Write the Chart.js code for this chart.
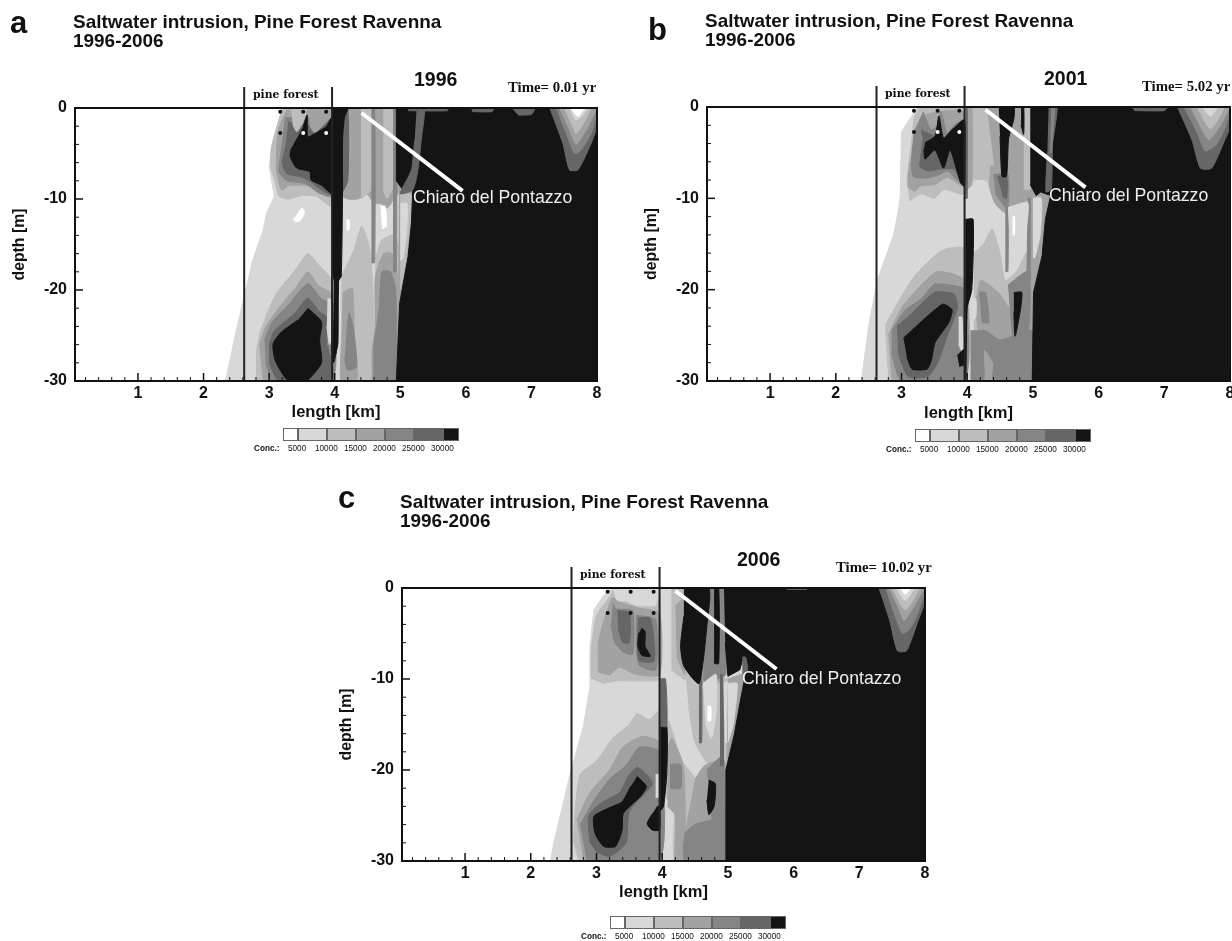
<!DOCTYPE html>
<html lang="en">
<head>
<meta charset="UTF-8">
<title>Saltwater intrusion, Pine Forest Ravenna</title>
<script src="https://cdn.jsdelivr.net/npm/chart.js@4"></script>
<style>
  html, body { margin: 0; padding: 0; background: #fff; overflow: hidden; }
  #page { position: relative; width: 1232px; height: 941px; filter: blur(0.45px); color: #111; font-family: "Liberation Sans", Arial, sans-serif; overflow: hidden; }
  canvas { position: absolute; }
  .txt { position: absolute; white-space: nowrap; line-height: 1; }
  .letter { font-size: 31px; font-weight: bold; }
  .title { font-size: 18.95px; font-weight: bold; line-height: 19px; }
  .year { font-size: 19.5px; font-weight: bold; }
  .time { font: bold 14.8px "Liberation Serif", serif; }
  .forest { font: bold 10.8px "DejaVu Serif", serif; }
  .lake { font-size: 17.7px; color: #eee; }
  .swatch { position: absolute; height: 13px; border: 1px solid #666; box-sizing: border-box; }
  .conc { position: absolute; font-size: 8.2px; white-space: nowrap; }
</style>
</head>
<body>
<div id="page"></div>
<script>
// axes
const xTicks = [1, 2, 3, 4, 5, 6, 7, 8];
const xMinor = [0.2,0.4,0.6,0.8,1.2,1.4,1.6,1.8,2.2,2.4,2.6,2.8,3.2,3.4,3.6,3.8,4.2,4.4,4.6,4.8,5.2,5.4,5.6,5.8,6.2,6.4,6.6,6.8,7.2,7.4,7.6,7.8];
const yTicks = [0, -10, -20, -30];
const yMinor = [-2,-4,-6,-8,-12,-14,-16,-18,-22,-24,-26,-28];
const forestEdges = [2.62, 3.96];
const forestTop = 2.3;

// observation wells [km, depth]
const aWellsBlack = [[3.17,-0.4],[3.52,-0.4],[3.87,-0.4],[3.17,-2.75]];
const aWellsWhite = [[3.52,-2.75],[3.87,-2.75]];
const bWellsBlack = [[3.19,-0.4],[3.55,-0.4],[3.88,-0.4],[3.19,-2.75]];
const bWellsWhite = [[3.55,-2.75],[3.88,-2.75]];
const cWellsBlack = [[3.17,-0.4],[3.52,-0.4],[3.87,-0.4],[3.17,-2.75],[3.52,-2.75],[3.87,-2.75]];
const cWellsWhite = [];

// Chiaro del Pontazzo pointer
const aPointer = [[4.41,-0.55],[5.95,-9.1]];
const bPointer = [[4.28,-0.3],[5.80,-8.8]];
const cPointer = [[4.20,-0.3],[5.74,-8.9]];

// colour bar
const concLevels = [0, 5000, 10000, 15000, 20000, 25000, 30000];
const concLabels = ['5000', '10000', '15000', '20000', '25000', '30000'];

// contour regions, [lower concentration of the band, outline in km/depth], painted in this order
const aRegions = [
  [5000, [[2.33,-30],[2.35,-29.5],[2.5,-24.4],[2.63,-20.4],[2.75,-16.7],[2.91,-13.4],[2.96,-11.6],[3.08,-9.7],[3.0,-6.4],[3.09,-2.8],[3.21,-0.6],[3.26,0],[8,0],[8,-30]]],
  // forest, shallow
  [10000, [[3.2,0],[3.12,-2],[3.03,-4.5],[3.03,-6.5],[3.1,-8.3],[3.15,-9.7],[3.3,-10],[3.5,-9.6],[3.72,-9.7],[3.96,-10.8],[3.96,0]]],
  [15000, [[3.27,-0.2],[3.14,-2.4],[3.11,-6.8],[3.19,-9],[3.31,-8.5],[3.67,-8.6],[3.96,-9.7],[3.96,-0.2]]],
  [20000, [[3.25,-1],[3.2,-4],[3.15,-7],[3.27,-8],[3.55,-8.3],[3.75,-9.3],[3.96,-9.7],[3.96,-1]]],
  [25000, [[3.3,-1.5],[3.26,-4],[3.2,-6],[3.27,-7.2],[3.5,-7.6],[3.65,-8.2],[3.8,-9],[3.96,-9.5],[3.96,-0.8],[3.7,-2]]],
  [10000, [[3.33,-0.1],[3.56,-0.1],[3.55,-0.9],[3.5,-1.8],[3.42,-2.6],[3.36,-1.8]]],
  [15000, [[3.6,-0.1],[3.95,-0.1],[3.95,-0.9],[3.85,-1.7],[3.7,-2.7],[3.62,-2]]],
  [30000, [[3.52,-2.05],[3.58,-0.77],[3.59,-3.15],[3.7,-2.8],[3.87,-2.05],[3.96,-1],[3.96,-9.4],[3.8,-8.5],[3.64,-7.9],[3.62,-7],[3.42,-6.6],[3.32,-5.3],[3.34,-4.4]]],
  [0, [[3.37,-12.3],[3.42,-11.8],[3.5,-11],[3.54,-11.5],[3.47,-12.4],[3.4,-12.5]]],
  // forest, deep
  [10000, [[2.8,-27],[2.87,-24.5],[3.1,-20.5],[3.4,-17.8],[3.59,-16],[3.75,-17.2],[3.96,-19],[3.96,-30],[2.8,-30]]],
  [15000, [[2.85,-26],[2.95,-24],[3.2,-21.5],[3.4,-19.8],[3.59,-18],[3.75,-19.5],[3.96,-20.5],[3.96,-30],[2.9,-30]]],
  [20000, [[2.93,-25.5],[3.05,-23.5],[3.3,-21.6],[3.59,-19.3],[3.8,-21],[3.96,-21.5],[3.96,-30],[3.05,-30],[2.95,-28]]],
  [25000, [[3.0,-26],[3.07,-24.6],[3.2,-23.7],[3.4,-22.5],[3.59,-20.9],[3.77,-22.4],[3.88,-23],[3.88,-26],[3.96,-28],[3.96,-30],[3.15,-30],[3.0,-28]]],
  [30000, [[3.59,-22],[3.8,-23.5],[3.77,-25.5],[3.8,-28],[3.62,-29.7],[3.55,-30],[3.3,-30],[3.21,-29.3],[3.09,-27.7],[3.06,-25.9],[3.19,-24.6],[3.44,-23.3]]],
  [5000, [[3.89,-21],[3.94,-21],[3.96,-25],[3.92,-26],[3.88,-24]]],
  // east of the forest, shallow stripes
  [15000, [[4.0,0],[5.0,0],[5.0,-9],[4.9,-10],[4.8,-11],[4.7,-10.5],[4.6,-10.5],[4.5,-9.5],[4.35,-10],[4.2,-10],[4.05,-9.5]]],
  [10000, [[4.4,0],[4.55,0],[4.55,-9],[4.4,-10]]],
  [10000, [[4.74,0],[4.89,0],[4.89,-8.5],[4.8,-10],[4.74,-9]]],
  [25000, [[4.1,0],[4.2,0],[4.2,-8],[4.1,-9.5]]],
  // east of the forest, towers
  [10000, [[4.1,-18.5],[4.3,-15.5],[4.41,-13],[4.52,-15],[4.56,-17],[4.6,-23],[4.6,-30],[4.1,-30]]],
  [15000, [[4.12,-20.3],[4.27,-19.8],[4.3,-25],[4.34,-28],[4.33,-30],[4.1,-30],[4.1,-26]]],
  [20000, [[4.18,-25],[4.22,-22.5],[4.28,-24],[4.33,-27],[4.33,-28.5],[4.2,-28.8],[4.15,-27.5]]],
  [10000, [[4.62,-16.5],[4.72,-14.5],[4.9,-14],[5.0,-16],[5.0,-22],[4.96,-30],[4.6,-30]]],
  [15000, [[4.56,-27],[4.62,-24],[4.62,-18.5],[4.75,-16],[4.87,-16],[4.95,-18],[4.96,-30],[4.56,-30]]],
  [20000, [[4.6,-30],[4.6,-26],[4.68,-22],[4.72,-18],[4.85,-18],[4.93,-20],[4.94,-30]]],
  [20000, [[4.56,0],[4.61,0],[4.61,-17],[4.56,-17]]],
  [20000, [[4.89,0],[4.94,0],[4.94,-18],[4.89,-18]]],
  [0, [[4.18,-12.3],[4.22,-12.3],[4.22,-13.4],[4.18,-13.4]]],
  [0, [[4.7,-10.8],[4.77,-10.8],[4.79,-13],[4.72,-13.3]]],
  // seaward dark body and what cuts through it
  [15000, [[4.98,-8.5],[5.27,-8.5],[5.24,-11],[5.2,-15],[5.1,-19],[4.96,-23]]],
  [10000, [[5.0,-9.5],[5.17,-9.5],[5.14,-13],[5.08,-17],[5.0,-20]]],
  [5000, [[5.0,-10.5],[5.11,-10.5],[5.09,-14],[5.04,-16.5],[5.0,-16.8]]],
  [30000, [[5.25,0],[8,0],[8,-30],[4.94,-30],[4.99,-21.5],[5.12,-16.3],[5.17,-12.7],[5.19,-9],[5.04,-9],[4.94,-8],[4.94,0]]],
  [25000, [[5.25,0],[5.37,0],[5.32,-3.5],[5.27,-6.8],[5.19,-9],[5.0,-9.4],[5.17,-6.8],[5.22,-3.5]]],
  [25000, [[5.12,0],[5.72,0],[5.72,-0.3],[5.12,-0.3]]],
  [25000, [[6.08,0],[6.42,0],[6.4,-0.4],[6.1,-0.4]]],
  [25000, [[6.7,0],[7.05,0],[7.0,-0.7],[6.8,-0.8]]],
  [30000, [[3.96,0],[4.2,0],[4.15,-1],[4.12,-3.5],[4.12,-9],[4.1,-18.5],[4.06,-19],[4.05,-25.8],[4.02,-27],[3.98,-28],[3.95,-26.5],[3.98,-25.5],[3.99,-19],[3.96,-18]]],
  // coastal blob
  [25000, [[7.28,0],[7.48,-3.9],[7.58,-6.8],[7.71,-6.8],[7.91,-3.9],[8,-2],[8,0]]],
  [20000, [[7.38,0],[7.53,-2.8],[7.66,-5],[7.76,-4.6],[7.91,-2.8],[8,-0.6],[8,0]]],
  [15000, [[7.43,0],[7.58,-2.4],[7.68,-4],[7.84,-2.4],[7.96,-0.6],[8,0]]],
  [10000, [[7.5,0],[7.63,-2],[7.68,-2.8],[7.78,-1.9],[7.91,0]]],
  [5000, [[7.58,0],[7.68,-1.3],[7.78,-0.8],[7.86,0]]],
  [0, [[7.6,0],[7.71,-0.95],[7.81,0]]]
];

const bRegions = [
  [5000, [[2.39,-30],[2.5,-24],[2.63,-19],[2.88,-14],[2.96,-11],[2.98,-9.8],[3.0,-2.7],[3.2,-0.5],[3.25,0],[8,0],[8,-30]]],
  // forest, shallow
  [10000, [[3.12,-10.3],[3.3,-9.5],[3.5,-10],[3.65,-9],[3.96,-9.5],[3.96,0],[3.3,0],[3.2,-1],[3.15,-4],[3.08,-8]]],
  [15000, [[3.13,-6],[3.1,-8.7],[3.2,-9.2],[3.3,-8.6],[3.5,-8.5],[3.7,-7.7],[3.96,-8.7],[3.96,-0.6],[3.32,-1],[3.25,-4]]],
  [20000, [[3.2,-2.5],[3.15,-6],[3.18,-7.6],[3.35,-7.8],[3.55,-7.5],[3.7,-7],[3.96,-8.6],[3.96,-1.5],[3.8,-2],[3.7,-3],[3.6,-0.5],[3.55,-2],[3.45,-2.5],[3.33,-0.5]]],
  [25000, [[3.3,-2.5],[3.33,-3.5],[3.28,-6.5],[3.4,-7],[3.6,-6.8],[3.8,-6.8],[3.96,-8.6],[3.96,-2],[3.75,-2.5],[3.64,-3.6],[3.52,-3.2]]],
  [30000, [[3.34,-4.7],[3.36,-5.7],[3.51,-4.7],[3.64,-6.7],[3.74,-4.7],[3.9,-8.3],[3.96,-8.7],[3.96,-1.4],[3.77,-2.5],[3.64,-3.4],[3.57,-1],[3.51,-3.2],[3.36,-3.9]]],
  // forest, deep
  [10000, [[2.75,-24],[2.9,-22],[3.2,-18.5],[3.55,-16],[3.7,-15.5],[3.96,-15.5],[3.96,-30],[2.8,-30]]],
  [15000, [[2.8,-25],[3.0,-22],[3.3,-19.5],[3.55,-18],[3.96,-19],[3.96,-30],[2.85,-30]]],
  [20000, [[2.85,-24.5],[3.05,-22.3],[3.3,-21],[3.5,-19.4],[3.75,-19.5],[3.96,-20],[3.96,-30],[3.0,-30],[2.85,-27]]],
  [25000, [[2.93,-24],[3.1,-23],[3.5,-20.3],[3.8,-20.5],[3.85,-22],[3.7,-25],[3.55,-28],[3.4,-29.5],[3.1,-29.5],[2.95,-27]]],
  [30000, [[3.03,-25.3],[3.62,-21.6],[3.77,-22.2],[3.72,-23.6],[3.51,-25.8],[3.46,-27.6],[3.39,-28.7],[3.16,-28.7],[3.08,-27.3]]],
  [5000, [[3.87,-23],[3.92,-23],[3.94,-27],[3.87,-26]]],
  [30000, [[3.85,-27.2],[3.96,-26.5],[3.96,-28.2],[3.88,-28.4]]],
  // east of the forest, shallow
  [10000, [[4.0,0],[4.5,0],[4.6,-8],[4.5,-10.5],[4.3,-9],[4.05,-8]]],
  [15000, [[4.0,0],[4.07,0],[4.07,-8.5],[4.0,-9]]],
  [15000, [[4.3,0],[4.48,0],[4.5,-7],[4.42,-7]]],
  [15000, [[4.6,0],[4.95,0],[5.0,-9.5],[4.75,-11],[4.6,-11]]],
  [15000, [[4.35,-6.5],[4.62,-6.5],[4.64,-11.5],[4.56,-11.5],[4.42,-10.5],[4.33,-8.5]]],
  [20000, [[4.4,-7.4],[4.62,-7.4],[4.62,-11],[4.56,-10.8],[4.43,-9.5]]],
  [25000, [[4.46,-7.6],[4.6,-7.6],[4.6,-10],[4.54,-9.8]]],
  [10000, [[4.86,0],[4.96,0],[4.96,-9],[4.86,-9]]],
  [30000, [[4.48,0],[4.71,0],[4.71,-1.3],[4.63,-3.5],[4.6,-7.6],[4.53,-7.6],[4.5,-3.2]]],
  [30000, [[4.82,0],[4.86,0],[4.86,-3],[4.82,-2]]],
  // east of the forest, towers
  [10000, [[4.1,-16],[4.25,-15],[4.38,-13.4],[4.5,-16],[4.58,-19],[4.75,-18],[4.9,-16],[5,-16],[5,-30],[4.1,-30]]],
  [15000, [[4.12,-22],[4.2,-19],[4.3,-19.3],[4.5,-20.5],[4.65,-22],[4.8,-19.5],[4.96,-18],[4.99,-30],[4.25,-30]]],
  [5000, [[4.05,-21],[4.13,-21],[4.13,-23],[4.05,-23.5]]],
  [20000, [[4.18,-20.3],[4.28,-20.3],[4.33,-23.6],[4.22,-23.6]]],
  [20000, [[4.05,-24.5],[4.28,-24.5],[4.5,-25.5],[4.9,-24.5],[4.99,-24.5],[4.99,-30],[4.4,-30],[4.4,-28],[4.25,-26.5],[4.25,-30],[4.05,-30]]],
  [20000, [[4.62,-19.5],[4.93,-18],[4.93,-24.5],[4.68,-25]]],
  [20000, [[4.58,-11],[4.62,-11],[4.62,-18],[4.58,-18]]],
  [20000, [[4.92,-10],[4.97,-10],[4.96,-19],[4.9,-19]]],
  [5000, [[4.62,-11],[4.92,-10.5],[4.88,-14],[4.75,-16],[4.66,-16.5]]],
  [5000, [[4.1,-8],[4.3,-8.2],[4.36,-11],[4.25,-12.5],[4.1,-11.5]]],
  [0, [[4.69,-12],[4.72,-12],[4.72,-14],[4.69,-14]]],
  [30000, [[4.71,-20.3],[4.83,-20.3],[4.81,-22.2],[4.73,-25.1],[4.71,-22.5]]],
  // seaward dark body
  [15000, [[4.97,-8.5],[5.3,-8.5],[5.25,-12],[5.2,-16],[5.03,-23],[4.97,-23]]],
  [5000, [[5.0,-10],[5.13,-10],[5.11,-14],[5.03,-16.5],[5,-16.5]]],
  [30000, [[4.96,0],[8,0],[8,-30],[4.99,-30],[5.01,-20.3],[5.14,-16.3],[5.19,-12.3],[5.27,-9.7],[5.12,-9.3],[5.05,-9.7],[4.96,-8.5]]],
  [25000, [[5.24,0],[5.37,0],[5.3,-4],[5.28,-9],[5.2,-9.3],[5.22,-5]]],
  [20000, [[5.28,0],[5.33,0],[5.28,-5],[5.26,-5]]],
  [25000, [[6.5,0],[7.05,0],[7.0,-0.4],[6.55,-0.4]]],
  [30000, [[3.97,-12.3],[4.09,-12.3],[4.07,-20],[4.0,-22],[3.98,-30],[3.97,-30]]],
  [25000, [[3.98,0],[4.0,0],[4.0,-10],[3.97,-10]]],
  // coastal blob
  [25000, [[7.2,0],[7.42,-3.6],[7.55,-6.7],[7.72,-6.7],[7.91,-3.8],[8,-2.2],[8,0]]],
  [20000, [[7.3,0],[7.5,-2.8],[7.62,-4.8],[7.78,-4.2],[7.92,-2.4],[8,-0.6],[8,0]]],
  [15000, [[7.4,0],[7.57,-2.4],[7.68,-3.6],[7.84,-2.2],[7.96,-0.6],[8,0]]],
  [10000, [[7.5,0],[7.63,-1.8],[7.7,-2.4],[7.8,-1.6],[7.92,0]]],
  [5000, [[7.58,0],[7.7,-1],[7.82,0]]]
];

const cRegions = [
  [5000, [[2.3,-30],[2.35,-28],[2.6,-20.4],[2.8,-15.2],[2.9,-10.8],[2.9,-6.4],[2.96,-2.4],[3.13,-0.6],[3.23,0],[8,0],[8,-30]]],
  // forest, shallow
  [10000, [[2.92,-10],[2.92,-7],[3.0,-3],[3.2,-1],[3.25,-0.3],[3.3,-1.5],[3.45,-1.5],[3.6,-2],[3.9,-2],[3.96,-1],[3.96,-10],[3.7,-10.2],[3.3,-10.2],[3.1,-10.5]]],
  [15000, [[3.03,-9.3],[3.03,-6],[3.13,-3.2],[3.25,-1],[3.33,-1.5],[3.65,-2.2],[3.96,-2.8],[3.96,-9.5],[3.6,-9.5],[3.35,-8.7],[3.2,-9.6]]],
  [20000, [[3.25,-1.7],[3.3,-2.3],[3.55,-2.5],[3.55,-7.3],[3.4,-7],[3.28,-6],[3.22,-4]]],
  [20000, [[3.6,-3],[3.9,-3.5],[3.9,-9],[3.65,-8.5],[3.6,-6]]],
  [25000, [[3.32,-2.5],[3.5,-2.7],[3.5,-6],[3.4,-6],[3.33,-4.5]]],
  [25000, [[3.63,-3.3],[3.82,-3.3],[3.88,-8],[3.65,-8],[3.62,-6]]],
  [30000, [[3.69,-4.4],[3.74,-4.8],[3.74,-6.4],[3.82,-7.5],[3.69,-7.4],[3.63,-6.4],[3.64,-5]]],
  // forest, deep
  [10000, [[2.65,-28],[2.68,-24],[2.75,-20.5],[3,-19],[3.25,-16.5],[3.5,-15],[3.62,-13.8],[3.8,-14.5],[3.96,-13.5],[3.96,-30],[2.72,-30]]],
  [15000, [[2.7,-25.5],[2.9,-22.5],[3.2,-20],[3.4,-17.5],[3.7,-16.3],[3.96,-17],[3.96,-30],[2.8,-30]]],
  [20000, [[2.75,-26],[2.95,-23.5],[3.2,-21],[3.45,-19.5],[3.65,-17.5],[3.96,-18],[3.96,-30],[2.85,-30]]],
  [25000, [[2.9,-28],[2.88,-25],[3.1,-23.5],[3.35,-22.5],[3.5,-20.5],[3.63,-19.7],[3.85,-21.5],[3.5,-24.5],[3.45,-28],[3.2,-29.5],[3,-29]]],
  [30000, [[3.62,-20.7],[3.76,-21.8],[3.67,-22.9],[3.41,-24.75],[3.39,-26.6],[3.29,-28.4],[3.11,-28.4],[2.98,-27],[2.96,-25.1],[3.18,-24.2],[3.39,-23.5],[3.52,-21.8]]],
  [30000, [[3.92,-24],[3.96,-24],[3.96,-26.6],[3.85,-26.6],[3.77,-25.9],[3.85,-24.8]]],
  [5000, [[3.9,-20.5],[3.95,-20.5],[3.95,-23],[3.9,-23]]],
  // east of the forest
  [10000, [[4.14,0],[4.35,0],[4.35,-10],[4.14,-9]]],
  [15000, [[4.2,-2],[4.35,-1],[4.35,-9.5],[4.22,-7.5]]],
  [10000, [[4.35,-9],[4.6,-11],[5.0,-10],[5.0,-23],[4.75,-20],[4.5,-17],[4.4,-13]]],
  [15000, [[4.54,-10.5],[4.72,-4],[4.9,-3],[5.0,-9],[4.85,-10.5],[4.7,-11]]],
  [20000, [[4.7,0],[4.96,0],[4.96,-9.5],[4.85,-10],[4.8,-9.5],[4.7,-10.5],[4.62,-10]]],
  [25000, [[4.56,-9.7],[4.6,-9.7],[4.6,-17],[4.56,-17]]],
  [5000, [[4.62,-10.5],[4.82,-9.5],[4.82,-14],[4.75,-16.5],[4.66,-15]]],
  [0, [[4.69,-13],[4.74,-13],[4.74,-14.6],[4.69,-14.6]]],
  [5000, [[4.92,-10.5],[5.15,-10],[5.1,-14.5],[5,-17],[4.96,-17]]],
  [10000, [[4.05,-14],[4.12,-15],[4.3,-19],[4.5,-21],[4.5,-27],[4.35,-30],[4.18,-30],[4.18,-24],[4.05,-23]]],
  [15000, [[4.08,-17.5],[4.15,-16.5],[4.32,-19.5],[4.35,-26],[4.3,-30],[4.2,-30],[4.2,-25],[4.08,-24]]],
  [20000, [[4.12,-19.4],[4.28,-19.4],[4.28,-22],[4.12,-22]]],
  [15000, [[4.5,-21],[4.65,-19.5],[4.95,-19],[4.97,-30],[4.3,-30],[4.35,-26.5]]],
  [20000, [[4.68,-20],[4.92,-18.5],[4.96,-24],[4.96,-30],[4.35,-30],[4.35,-27],[4.5,-26],[4.75,-25.5]]],
  [30000, [[4.71,-21.1],[4.81,-21.5],[4.79,-24],[4.71,-24.9],[4.68,-23.3]]],
  [25000, [[4.88,-9.5],[4.92,-9.5],[4.93,-19.5],[4.88,-19.5]]],
  [15000, [[5.0,-10],[5.27,-9.5],[5.23,-13],[5.1,-18],[4.97,-24]]],
  [5000, [[5.0,-10.5],[5.14,-10.5],[5.08,-15],[5,-17]]],
  // seaward dark body and dark stripes
  [30000, [[4.94,0],[8,0],[8,-30],[4.96,-30],[4.97,-20],[5.1,-16],[5.2,-12],[5.28,-9],[5.24,-7.5],[5.18,-9],[5.0,-9.7],[4.96,-6]]],
  [25000, [[5.22,-7.6],[5.27,-7.6],[5.3,-9],[5.22,-9.5]]],
  [30000, [[4.33,0],[4.71,0],[4.68,-4.2],[4.56,-10.5],[4.33,-8.6],[4.28,-6.4],[4.33,-3.1]]],
  [30000, [[4.79,0],[4.86,0],[4.86,-8.3],[4.79,-8.3]]],
  [5000, [[4.12,-9.8],[4.28,-9.8],[4.28,-11.5],[4.12,-11.5]]],
  [30000, [[3.97,-15.2],[4.07,-15.2],[4.07,-20.4],[4.02,-24],[3.97,-24.5]]],
  [25000, [[3.97,-10],[4.05,-10],[4.07,-15.2],[3.97,-15.2]]],
  [25000, [[5.9,0],[6.2,0],[6.2,-0.15],[5.9,-0.15]]],
  // coastal blob
  [25000, [[7.3,0],[7.46,-3.5],[7.58,-6.9],[7.72,-6.9],[7.9,-3.5],[8,-1.5],[8,0]]],
  [20000, [[7.4,0],[7.52,-2.6],[7.66,-5],[7.78,-4.4],[7.9,-2.6],[8,-0.4],[8,0]]],
  [15000, [[7.45,0],[7.6,-2.2],[7.68,-3.6],[7.82,-2.2],[7.96,-0.4],[8,0]]],
  [10000, [[7.5,0],[7.63,-1.8],[7.7,-2.4],[7.8,-1.6],[7.92,0]]],
  [5000, [[7.56,0],[7.7,-1.4],[7.84,0]]],
  [0, [[7.62,0],[7.7,-0.7],[7.78,0]]]
];

const bandColors = { 0: '#ffffff', 5000: '#d8d8d8', 10000: '#bdbdbd', 15000: '#a2a2a2', 20000: '#858585', 25000: '#666666', 30000: '#141414' };
const swatchLeft = [0, 15, 44, 73, 102, 131, 160];
const swatchWidth = [15, 29, 29, 29, 29, 29, 16];
const labelLeft = [5, 32, 61, 90, 119, 148];

const page = document.getElementById('page');

function addText(cls, x, y, html) {
  const el = document.createElement('div');
  el.className = 'txt ' + cls;
  el.style.left = x + 'px';
  el.style.top = y + 'px';
  el.innerHTML = html;
  page.appendChild(el);
}

function toPoints(list) {
  return list.map(p => ({ x: p[0], y: p[1] }));
}

// spline control points overshoot next to a very long edge, keep those outlines straight
function hasLongEdge(list) {
  return list.some((p, i) => i > 0 && Math.abs(p[0] - list[i - 1][0]) > 1.5);
}

// inward ticks and the top/right frame
const frame = {
  id: 'frame',
  afterDatasetsDraw(chart) {
    const { ctx, chartArea: a, scales: { x, y } } = chart;
    ctx.save();
    ctx.strokeStyle = '#111';
    ctx.lineWidth = 2;
    ctx.strokeRect(a.left, a.top, a.right - a.left, a.bottom - a.top);
    const tick = (px, py, dx, dy, w) => {
      ctx.lineWidth = w;
      ctx.beginPath();
      ctx.moveTo(px, py);
      ctx.lineTo(px + dx, py + dy);
      ctx.stroke();
    };
    xTicks.forEach(v => tick(x.getPixelForValue(v), a.bottom, 0, -8, 1.5));
    xMinor.forEach(v => tick(x.getPixelForValue(v), a.bottom, 0, -4, 1));
    yTicks.forEach(v => tick(a.left, y.getPixelForValue(v), 8, 0, 1.5));
    yMinor.forEach(v => tick(a.left, y.getPixelForValue(v), 4, 0, 1));
    ctx.restore();
  }
};

function makePanel(p) {
  const cv = document.createElement('canvas');
  cv.width = p.w;
  cv.height = p.h;
  cv.style.left = p.left + 'px';
  cv.style.top = p.top + 'px';
  page.appendChild(cv);

  const datasets = [];
  p.regions.forEach(r => {
    datasets.push({
      data: toPoints(r[1]),
      showLine: true,
      fill: 'shape',
      backgroundColor: bandColors[r[0]],
      borderColor: bandColors[r[0]],
      borderWidth: 1,
      pointRadius: 0,
      tension: hasLongEdge(r[1]) ? 0 : 0.2
    });
  });
  datasets.push({ data: toPoints(p.pointer), showLine: true, fill: false, borderColor: '#fff', borderWidth: 4, pointRadius: 0 });
  forestEdges.forEach(e => {
    datasets.push({ data: toPoints([[e, forestTop], [e, -30]]), showLine: true, fill: false, borderColor: '#222', borderWidth: 2, pointRadius: 0, clip: false });
  });
  datasets.push({ data: toPoints(p.black), pointRadius: 2, backgroundColor: '#111', borderWidth: 0 });
  datasets.push({ data: toPoints(p.white), pointRadius: 2, backgroundColor: '#fff', borderWidth: 0 });
  // first dataset in the list is painted on top by default, so turn that round
  datasets.forEach((d, i) => { d.order = datasets.length - i; });

  new Chart(cv.getContext('2d'), {
    type: 'scatter',
    data: { datasets },
    plugins: [frame],
    options: {
      responsive: false,
      animation: false,
      devicePixelRatio: 1,
      layout: { padding: { top: p.padTop, right: p.padRight } },
      plugins: { legend: { display: false }, tooltip: { enabled: false } },
      scales: {
        x: {
          type: 'linear', min: 0.04, max: 8,
          grid: { display: false, drawTicks: false },
          border: { display: false },
          afterBuildTicks: s => { s.ticks = xTicks.map(v => ({ value: v })); },
          afterFit: s => { s.height = p.h - p.padTop - p.plotH; },
          ticks: { color: '#111', padding: 3, font: { family: 'Liberation Sans', size: 16, weight: 'bold' }, maxRotation: 0, autoSkip: false, callback: v => String(v) },
          title: { display: true, text: 'length [km]', color: '#111', padding: { top: 2, bottom: 8 }, font: { family: 'Liberation Sans', size: 16.5, weight: 'bold' } }
        },
        y: {
          type: 'linear', min: -30, max: 0,
          grid: { display: false, drawTicks: false },
          border: { display: false },
          afterBuildTicks: s => { s.ticks = yTicks.map(v => ({ value: v })); },
          afterFit: s => { s.width = 75; },
          ticks: { color: '#111', padding: 8, font: { family: 'Liberation Sans', size: 16, weight: 'bold' }, autoSkip: false, callback: v => String(v) },
          title: { display: true, text: 'depth [m]', color: '#111', padding: { top: 10, bottom: 0 }, font: { family: 'Liberation Sans', size: 15.8, weight: 'bold' } }
        }
      }
    }
  });

  // texts around the plot, relative to the plot's top left corner
  const px = p.left + 75, py = p.top + p.padTop;
  addText('letter', p.letterX, p.letterY, p.letter);
  addText('title', px - 2, py - 96, 'Saltwater intrusion, Pine Forest Ravenna<br>1996-2006');
  addText('year', px + p.yearX, py - 38, p.year);
  addText('time', px + p.timeX, py - 29, p.time);
  addText('forest', px + 178, py - 20, 'pine forest');
  addText('lake', px + p.lakeX, py + p.lakeY, 'Chiaro del Pontazzo');

  // colour bar
  const bx = px + 208, by = py + p.barY;
  concLevels.forEach((lvl, i) => {
    const s = document.createElement('div');
    s.className = 'swatch';
    s.style.cssText = `left:${bx + swatchLeft[i]}px;top:${by}px;width:${swatchWidth[i]}px;background:${bandColors[lvl]}`;
    page.appendChild(s);
  });
  concLabels.forEach((t, i) => {
    const s = document.createElement('div');
    s.className = 'conc';
    s.style.cssText = `left:${bx + labelLeft[i]}px;top:${by + 16}px`;
    s.textContent = t;
    page.appendChild(s);
  });
  const c = document.createElement('div');
  c.className = 'conc';
  c.style.cssText = `left:${bx - 29}px;top:${by + 16}px;font-weight:bold`;
  c.textContent = 'Conc.:';
  page.appendChild(c);
}

makePanel({ regions: aRegions, pointer: aPointer, black: aWellsBlack, white: aWellsWhite, left: 0, top: 80, w: 610, h: 350, padTop: 28, padRight: 13, plotH: 273, letter: 'a', letterX: 10, letterY: 7, year: '1996', yearX: 339, time: 'Time= 0.01 yr', timeX: 433, lakeX: 338, lakeY: 81, barY: 320 });
// this canvas runs past the window edge so that x=8 lands where it does in the picture, with its label cut off
makePanel({ regions: bRegions, pointer: bPointer, black: bWellsBlack, white: bWellsWhite, left: 632, top: 79, w: 612, h: 352, padTop: 28, padRight: 14, plotH: 274, letter: 'b', letterX: 648, letterY: 14, year: '2001', yearX: 337, time: 'Time= 5.02 yr', timeX: 435, lakeX: 342, lakeY: 80, barY: 322 });
makePanel({ regions: cRegions, pointer: cPointer, black: cWellsBlack, white: cWellsWhite, left: 327, top: 560, w: 610, h: 350, padTop: 28, padRight: 12, plotH: 273, letter: 'c', letterX: 338, letterY: 482, year: '2006', yearX: 335, time: 'Time= 10.02 yr', timeX: 434, lakeX: 340, lakeY: 82, barY: 328 });
</script>
</body>
</html>
